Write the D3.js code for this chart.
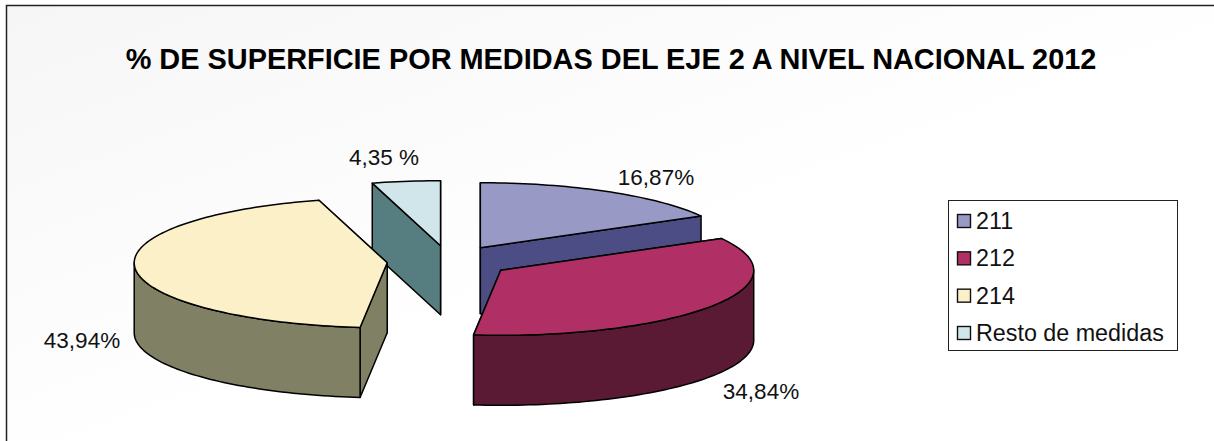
<!DOCTYPE html>
<html><head><meta charset="utf-8">
<script src="https://cdn.jsdelivr.net/npm/d3@7/dist/d3.min.js"></script>
<style>html,body{margin:0;padding:0;background:#fff}svg{display:block;font-family:"Liberation Sans",Arial,sans-serif}</style>
</head><body><div id="c"></div>
<script>
const categories = ["211","212","214","Resto de medidas"];
const values = [16.87,34.84,43.94,4.35];
const valueLabels = ["16,87%","34,84%","43,94%","4,35 %"];
const topColors = ["#9999c6","#b03065","#fbf0c8","#d0e6ea"];
const sideColors = ["#4d4d85","#5a1a33","#808064","#567e80"];
const title = "% DE SUPERFICIE POR MEDIDAS DEL EJE 2 A NIVEL NACIONAL 2012";

const W=1214,H=441;
const svg=d3.select("#c").append("svg").attr("width",W).attr("height",H);
const defs=svg.append("defs");
const g=defs.append("linearGradient").attr("id","bg").attr("x1",0).attr("y1",0).attr("x2",1).attr("y2",1);
g.append("stop").attr("offset",0).attr("stop-color","#f6f6f6");
g.append("stop").attr("offset",0.55).attr("stop-color","#ffffff");
g.append("stop").attr("offset",1).attr("stop-color","#ffffff");
svg.append("rect").attr("width",W).attr("height",H).attr("fill","#fff");
svg.append("rect").attr("x",6).attr("y",5).attr("width",W-6).attr("height",H-5).attr("fill","url(#bg)");
svg.append("path").attr("d","M6.5,441V5.5H1214").attr("fill","none").attr("stroke","#222").attr("stroke-width",1.5);

svg.append("text").attr("x",611).attr("y",69).attr("text-anchor","middle")
  .attr("font-size",28.9).attr("font-weight",700).attr("fill","#000").text(title);

// 3D pie projection
const cx=449,cy=261.5,rx=253,ry=65,explode=62,depth=[66,70,70,69];
const pie=d3.pie().sort(null).startAngle(0).endAngle(2*Math.PI);
const arcs=pie(values);
const px=d3.scaleLinear().domain([-1,1]).range([cx-rx,cx+rx]);
const py=d3.scaleLinear().domain([-1,1]).range([cy-ry,cy+ry]);
const pt=(u,v)=>[px(u),py(v)];
function apex(a){const m=(a.startAngle+a.endAngle)/2;const e=explode/rx;return [Math.sin(m)*e,-Math.cos(m)*e];}
function rim(a,t0,t1){
  const o=apex(a),n=Math.max(2,Math.ceil((t1-t0)*40)),p=[];
  for(let i=0;i<=n;i++){const t=t0+(t1-t0)*i/n;p.push(pt(o[0]+Math.sin(t),o[1]-Math.cos(t)));}
  return p;
}
const line=d3.line();
const down=(p,d)=>p.map(q=>[q[0],q[1]+d]);
const draw=(p,fill)=>svg.append("path").attr("d",line(p)+"Z").attr("fill",fill)
  .attr("stroke","#000").attr("stroke-width",1.5).attr("stroke-linejoin","round");

function slice(i){
  const a=arcs[i],o=apex(a),c=pt(o[0],o[1]),d=depth[i];
  const s=rim(a,a.startAngle,a.endAngle);
  // radial walls, the far one first
  [s[0],s[s.length-1]].sort((p,q)=>p[1]-q[1]).forEach(e=>
    draw([c,e,[e[0],e[1]+d],[c[0],c[1]+d]],sideColors[i]));
  // outer wall on the front half
  const lo=Math.max(a.startAngle,Math.PI/2),hi=Math.min(a.endAngle,3*Math.PI/2);
  if(hi>lo){const w=rim(a,lo,hi);draw(w.concat(down(w,d).reverse()),sideColors[i]);}
  draw([c].concat(s),topColors[i]);
}
[3,0,2,1].forEach(slice);

const labelPos=[[656,185],[761,399],[82,348],[384,165]];
valueLabels.forEach((t,i)=>svg.append("text").attr("x",labelPos[i][0]).attr("y",labelPos[i][1])
  .attr("text-anchor","middle").attr("font-size",22.5).attr("fill","#111").text(t));

// legend
const lg=svg.append("g");
lg.append("rect").attr("x",948.5).attr("y",200.5).attr("width",229).attr("height",150).attr("fill","#fff").attr("stroke","#222").attr("stroke-width",1);
const ly=d3.scalePoint().domain(categories).range([221,333]);
categories.forEach((t,i)=>{
  lg.append("rect").attr("x",957.5).attr("y",ly(t)-6.5).attr("width",13).attr("height",13).attr("fill",topColors[i]).attr("stroke","#111").attr("stroke-width",1.4);
  lg.append("text").attr("x",976).attr("y",ly(t)+8).attr("font-size",23.3).attr("fill","#111").text(t);
});
</script></body></html>
